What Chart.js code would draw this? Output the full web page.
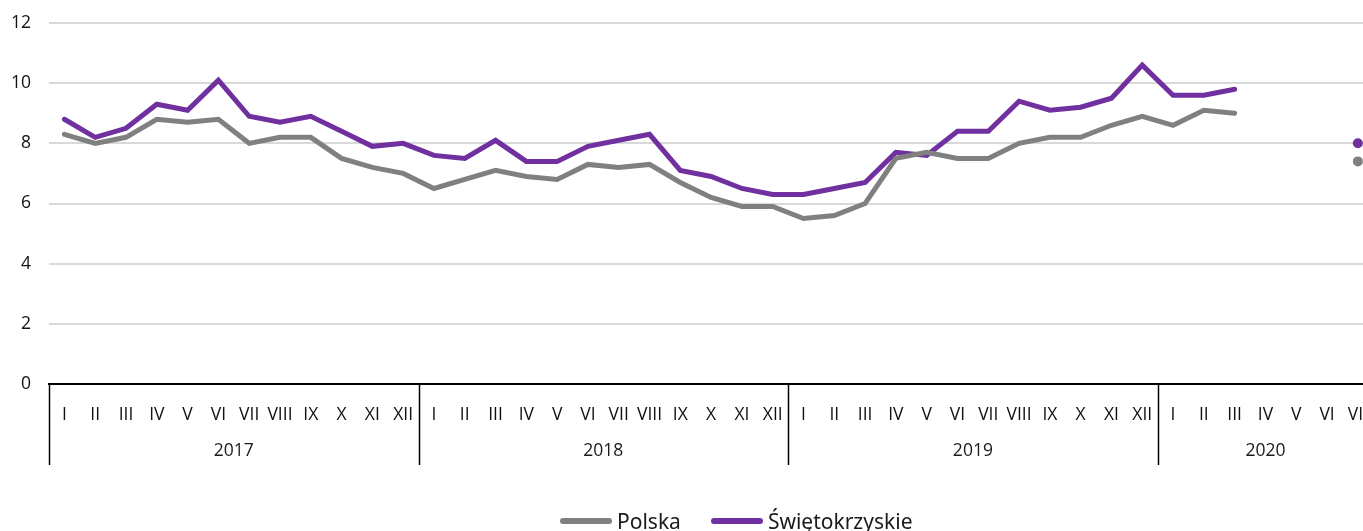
<!DOCTYPE html>
<html>
<head>
<meta charset="utf-8">
<script src="https://cdn.jsdelivr.net/npm/chart.js@4/dist/chart.umd.min.js"></script>
<style>
    html, body { margin: 0; padding: 0; background: #fff; overflow: hidden; }
    #wrap { position: relative; width: 1363px; height: 531px; overflow: hidden; }
    #legenda { position: absolute; left: 560px; top: 505px; font-family: 'Noto Sans', sans-serif; font-size: 21px; color: #1a1a1a; white-space: nowrap; }
    #legenda span { display: inline-block; vertical-align: middle; }
    .linea { width: 52px; height: 6px; border-radius: 3px; margin-right: 5px; }
</style>
</head>
<body>
<div id="wrap">
    <canvas id="grafico" width="1381" height="531"></canvas>
    <div id="legenda">
        <span class="linea" style="background:#808080"></span><span style="margin-right:30px">Polska</span><span class="linea" style="background:#7030a0"></span><span>Świętokrzyskie</span>
    </div>
</div>
<script>
const meses = ['I','II','III','IV','V','VI','VII','VIII','IX','X','XI','XII'];
const anios = ['2017', '2018', '2019', '2020'];
const etiquetas = [...meses, ...meses, ...meses, 'I','II','III','IV','V','VI','VII'];

const polska = [
    8.3, 8.0, 8.2, 8.8, 8.7, 8.8, 8.0, 8.2, 8.2, 7.5, 7.2, 7.0,
    6.5, 6.8, 7.1, 6.9, 6.8, 7.3, 7.2, 7.3, 6.7, 6.2, 5.9, 5.9,
    5.5, 5.6, 6.0, 7.5, 7.7, 7.5, 7.5, 8.0, 8.2, 8.2, 8.6, 8.9,
    8.6, 9.1, 9.0, null, null, null, null
];
const swietokrzyskie = [
    8.8, 8.2, 8.5, 9.3, 9.1, 10.1, 8.9, 8.7, 8.9, 8.4, 7.9, 8.0,
    7.6, 7.5, 8.1, 7.4, 7.4, 7.9, 8.1, 8.3, 7.1, 6.9, 6.5, 6.3,
    6.3, 6.5, 6.7, 7.7, 7.6, 8.4, 8.4, 9.4, 9.1, 9.2, 9.5, 10.6,
    9.6, 9.6, 9.8, null, null, null, null
];
// punto suelto al final
const polskaPunto = [...Array(42).fill(null), 7.4];
const swietPunto = [...Array(42).fill(null), 8.0];

const gris = '#808080';
const morado = '#7030a0';
const fuente = { family: 'Open Sans', size: 17.5 };

// separadores de años y etiquetas de año debajo de los meses
const ejeAnios = {
    id: 'ejeAnios',
    afterDraw(chart) {
        const x = chart.scales.x;
        const ctx = chart.ctx;
        const mitad = (x.getPixelForValue(1) - x.getPixelForValue(0)) / 2;
        const inicios = [0, 12, 24, 36];
        const fines = [11, 23, 35, 42];
        ctx.save();
        ctx.strokeStyle = '#000';
        ctx.lineWidth = 1.5;
        inicios.forEach(i => {
            const px = Math.round(x.getPixelForValue(i) - mitad) + 0.5;
            ctx.beginPath();
            ctx.moveTo(px, x.top);
            ctx.lineTo(px, x.bottom);
            ctx.stroke();
        });
        ctx.fillStyle = '#1a1a1a';
        ctx.font = fuente.size + 'px "Open Sans"';
        ctx.textAlign = 'center';
        ctx.textBaseline = 'middle';
        anios.forEach((a, k) => {
            const cx = (x.getPixelForValue(inicios[k]) + x.getPixelForValue(fines[k])) / 2;
            ctx.fillText(a, cx, x.top + 67);
        });
        ctx.restore();
    }
};

new Chart(document.getElementById('grafico'), {
    type: 'line',
    data: {
        labels: etiquetas,
        datasets: [
            {
                label: 'Polska',
                data: polska,
                borderColor: gris,
                backgroundColor: gris,
                borderWidth: 5,
                borderCapStyle: 'round',
                pointRadius: 0,
                tension: 0
            },
            {
                label: 'Świętokrzyskie',
                data: swietokrzyskie,
                borderColor: morado,
                backgroundColor: morado,
                borderWidth: 5,
                borderCapStyle: 'round',
                pointRadius: 0,
                tension: 0
            },
            {
                data: polskaPunto,
                showLine: false,
                pointRadius: 5,
                pointBackgroundColor: gris,
                pointBorderWidth: 0
            },
            {
                data: swietPunto,
                showLine: false,
                pointRadius: 5,
                pointBackgroundColor: morado,
                pointBorderWidth: 0
            }
        ]
    },
    options: {
        responsive: false,
        animation: false,
        layout: { padding: { top: 23, bottom: 66, left: 0, right: 2 } },
        plugins: {
            legend: { display: false },
            tooltip: { enabled: false }
        },
        scales: {
            x: {
                offset: true,
                grid: { display: false, offset: true },
                border: { display: true, color: '#000', width: 2 },
                ticks: {
                    autoSkip: false,
                    maxRotation: 0,
                    minRotation: 0,
                    padding: 13,
                    color: '#111',
                    font: fuente
                },
                afterFit(scale) { scale.height = 81; }
            },
            y: {
                min: 0,
                max: 12,
                grid: { color: '#d9d9d9', lineWidth: 2, drawTicks: false },
                border: { display: false },
                ticks: {
                    stepSize: 2,
                    padding: 18,
                    color: '#111',
                    font: fuente
                },
                afterFit(scale) {
                    scale.width = 49;
                    scale.paddingTop = 0;
                    scale.paddingBottom = 0;
                }
            }
        }
    },
    plugins: [ejeAnios]
});
</script>
</body>
</html>
